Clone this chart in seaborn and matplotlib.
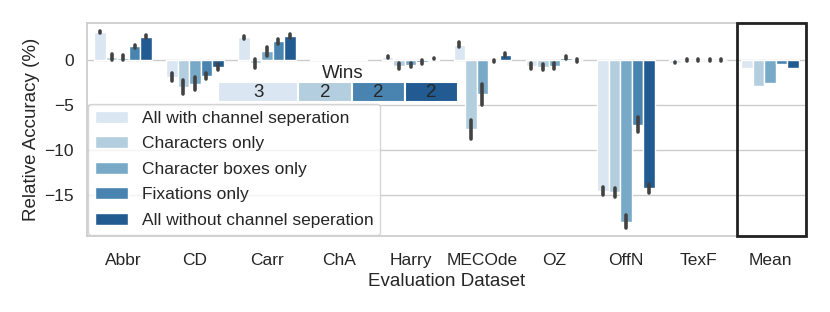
import numpy as np
import pandas as pd
import matplotlib
matplotlib.use("Agg")
import matplotlib.pyplot as plt
import seaborn as sns
from matplotlib.patches import Rectangle

datasets = ["Abbr", "CD", "Carr", "ChA", "Harry", "MECOde", "OZ", "OffN", "TexF", "Mean"]
series = ["All with channel seperation", "Characters only", "Character boxes only",
          "Fixations only", "All without channel seperation"]

all_with = [3.1, -1.9, 2.5, 0.1, 0.3, 1.7, -0.7, -14.6, -0.3, -0.95]
chars_only = [0.35, -3.0, -0.4, 0.1, -0.7, -7.75, -0.8, -14.75, -0.05, -2.9]
boxes_only = [0.25, -2.65, 0.95, 0.1, -0.55, -3.85, -0.7, -18.0, -0.05, -2.6]
fix_only = [1.5, -1.8, 2.05, 0.1, -0.25, -0.1, 0.25, -7.2, -0.05, -0.45]
all_without = [2.6, -0.8, 2.65, 0.1, 0.15, 0.6, -0.05, -14.3, -0.05, -0.9]

err_all_with = [0.15, 0.45, 0.15, 0.05, 0.1, 0.3, 0.3, 0.4, 0.1, np.nan]
err_chars_only = [0.35, 0.75, 0.45, 0.05, 0.35, 1.1, 0.35, 0.5, 0.1, np.nan]
err_boxes_only = [0.3, 0.7, 0.5, 0.05, 0.25, 1.2, 0.3, 0.7, 0.1, np.nan]
err_fix_only = [0.2, 0.35, 0.25, 0.05, 0.2, 0.1, 0.15, 0.8, 0.1, np.nan]
err_all_without = [0.2, 0.3, 0.2, 0.05, 0.1, 0.15, 0.15, 0.5, 0.1, np.nan]

wins_labels = ["3", "2", "2", "2"]
wins_series_idx = [0, 1, 3, 4]

values = [all_with, chars_only, boxes_only, fix_only, all_without]
errors = [err_all_with, err_chars_only, err_boxes_only, err_fix_only, err_all_without]

df = pd.DataFrame({
    "Evaluation Dataset": np.tile(datasets, len(series)),
    "Relative Accuracy (%)": np.concatenate(values),
    "Config": np.repeat(series, len(datasets)),
})

sns.set_theme(style="whitegrid")
plt.rcParams["font.family"] = ["Liberation Sans", "DejaVu Sans"]
FS = 12.5
LFS = 13.5

fig, ax = plt.subplots(figsize=(8.3, 3.12), dpi=100)
fig.subplots_adjust(left=0.105, right=0.971, top=0.926, bottom=0.244)

pal = sns.color_palette("Blues", 5)
sns.barplot(data=df, x="Evaluation Dataset", y="Relative Accuracy (%)", hue="Config",
            palette=pal, errorbar=None, ax=ax)

# error bars
for cont, errs, vals in zip(ax.containers, errors, values):
    for patch, e, v in zip(cont.patches, errs, vals):
        if np.isnan(e):
            continue
        xc = patch.get_x() + patch.get_width() / 2
        ax.plot([xc, xc], [v - e, v + e], color=".26", lw=2.6,
                solid_capstyle="round", zorder=4)

ax.set_ylim(-19.6, 4.1)
ax.set_xlim(-0.5, 9.5)
ax.set_yticks([-15, -10, -5, 0])
ax.tick_params(axis="x", labelsize=FS, pad=6)
ax.tick_params(axis="y", labelsize=FS)
ax.set_xlabel("Evaluation Dataset", fontsize=LFS, labelpad=4)
ax.set_ylabel("Relative Accuracy (%)", fontsize=LFS, labelpad=3)

# Mean box
ax.add_patch(Rectangle((8.54, -19.6), 0.955, 23.7, fill=False, edgecolor="#222222",
                       lw=2.0, zorder=5, clip_on=False))

# legend
handles = [plt.Rectangle((0, 0), 1, 1, facecolor=c.get_facecolor(), edgecolor="w")
           for c in [cont.patches[0] for cont in ax.containers]]
leg = ax.legend(handles, series, loc="lower left", fontsize=FS, borderaxespad=0.05,
                handlelength=1.9, labelspacing=0.6, frameon=True)
leg.set_zorder(6)

# wins table
bar_colors = [cont.patches[0].get_facecolor() for cont in ax.containers]
tab = ax.table(cellText=[wins_labels],
               cellColours=[[bar_colors[i] for i in wins_series_idx]],
               cellLoc="center",
               colWidths=[80, 53, 53, 53],
               bbox=[0.182, 0.629, 0.334, 0.094])
tab.auto_set_font_size(False)
for (r, c), cell in tab.get_celld().items():
    cell.set_edgecolor("white")
    cell.set_linewidth(1.5)
    cell.get_text().set_fontsize(13.5)
    cell.get_text().set_color("#262626")
tab.set_zorder(6)
ax.text(0.356, 0.765, "Wins", transform=ax.transAxes, ha="center", va="center",
        fontsize=13.5, color="#262626", zorder=6)

fig.savefig("out.png", dpi=100)
